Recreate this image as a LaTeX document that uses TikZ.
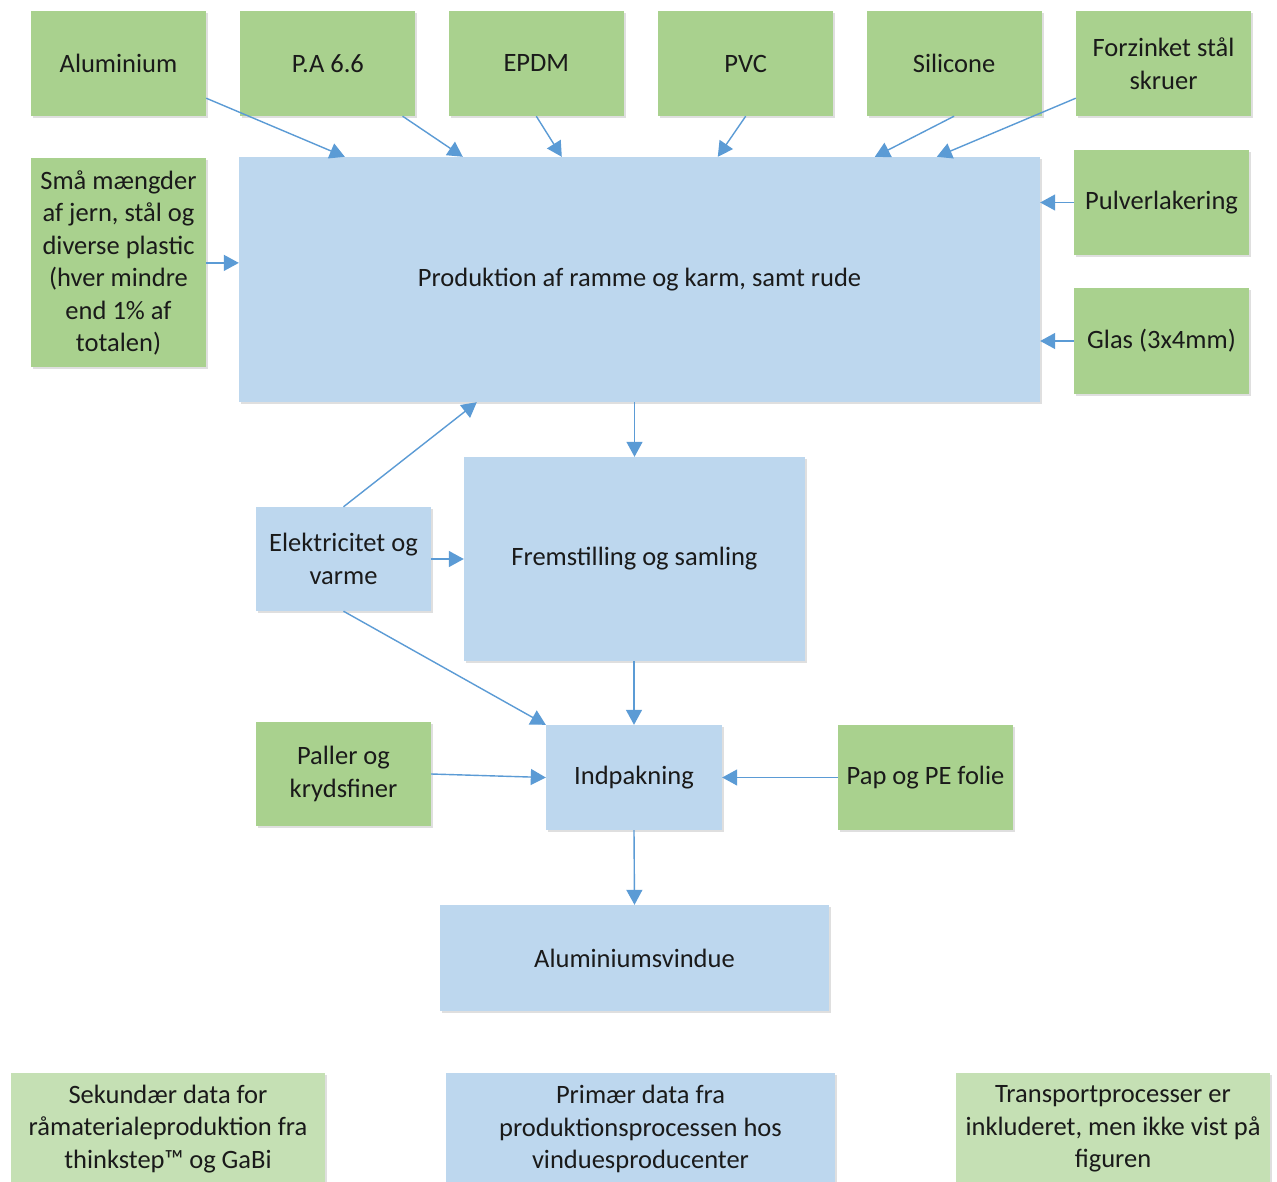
\documentclass[tikz,border=0pt]{standalone}
\usepackage{fontspec}
\setmainfont{Carlito}
\usepackage{xcolor}
\usetikzlibrary{arrows.meta,positioning,shadows}

\definecolor{rawgreen}{HTML}{A9D18E}
\definecolor{procblue}{HTML}{BDD7EE}
\definecolor{notegreen}{HTML}{C5E0B4}
\definecolor{flowblue}{HTML}{5B9BD5}
\definecolor{txtgray}{HTML}{1A1A1A}

\begin{document}
\begin{tikzpicture}[x=1pt,y=-1pt,
        box/.style={rectangle, inner sep=2pt, align=center, text=txtgray,
                    font=\fontsize{26.5}{32.5}\selectfont,
                    drop shadow={shadow xshift=2pt, shadow yshift=-2pt, opacity=0.25}},
        raw/.style={box, fill=rawgreen, minimum width=175pt, minimum height=105pt},
        proc/.style={box, fill=procblue}]
        \tikzstyle{flow} = [draw=flowblue, line width=1.4pt, -{Triangle[length=15pt,width=16pt]}]
        \tikzstyle{note} = [box, minimum height=112pt, drop shadow={opacity=0}]
        \useasboundingbox (0,0) rectangle (1277,1182);
        \fill[white] (0,0) rectangle (1277,1182);
        \clip (0,0) rectangle (1277,1182);

        % raw materials on top
        \node[raw] (alu) at (118.5,63.5) {Aluminium};
        \node[raw, right = 34pt of alu] (pa) {P.A 6.6};
        \node[raw, right = 33pt of pa] (epdm) {EPDM};
        \node[raw, right = 34pt of epdm] (pvc) {PVC};
        \node[raw, right = 33pt of pvc] (sil) {Silicone};
        \node[raw, right = 34pt of sil] (forz) {Forzinket stål\\skruer};
        \node[raw, minimum height=209pt, below = 42pt of alu] (smaa) {Små mængder\\af jern, stål og\\diverse plastic\\(hver mindre\\end 1\% af\\totalen)};
        \node[raw] (pulver) at (1161.5,202.5) {Pulverlakering};
        \node[raw] (glas) at (1161.5,341) {Glas (3x4mm)};

        % processes
        \node[proc, minimum width=801pt, minimum height=245pt] (main) at (639.5,279.5) {Produktion af ramme og karm, samt rude};
        \node[proc, minimum width=341pt, minimum height=204pt] (frem) at (634.5,559) {Fremstilling og samling};
        \node[proc, minimum width=175pt, minimum height=104pt] (el) at (343.5,559) {Elektricitet og\\varme};
        \node[proc, minimum width=176pt, minimum height=105pt] (indp) at (634,777.5) {Indpakning};
        \node[raw, minimum height=104pt] (paller) at (343.5,774) {Paller og\\krydsfiner};
        \node[raw] (pap) at (925.5,777.5) {Pap og PE folie};
        \node[proc, minimum width=389pt, minimum height=106pt] (vindue) at (634.5,958) {Aluminiumsvindue};

        % legend
        \node[note, fill=notegreen, minimum width=314pt] (sek) at (168,1129) {Sekundær data for\\råmaterialeproduktion fra\\thinkstep™ og GaBi};
        \node[note, fill=procblue, minimum width=389pt] (prim) at (640.5,1129) {Primær data fra\\produktionsprocessen hos\\vinduesproducenter};
        \node[note, fill=notegreen, minimum width=314pt] (trans) at (1113,1129) {Transportprocesser er\\inkluderet, men ikke vist på\\figuren};

        \draw [flow] ([yshift=18pt]alu.south east) -- ([xshift=106pt]main.north west);
        \draw [flow] ([xshift=-13pt]pa.south east) -- ([xshift=224pt]main.north west);
        \draw [flow] (epdm.south) -- ([xshift=323pt]main.north west);
        \draw [flow] (pvc.south) -- ([xshift=479pt]main.north west);
        \draw [flow] (sil.south) -- ([xshift=636pt]main.north west);
        \draw [flow] ([yshift=18pt]forz.south west) -- ([xshift=698pt]main.north west);
        \draw [flow] (smaa.east) -- (smaa.east -| main.west);
        \draw [flow] (pulver.west) -- (pulver.west -| main.east);
        \draw [flow] (glas.west) -- (glas.west -| main.east);
        \draw [flow] (main.south -| frem.north) -- (frem.north);
        \draw [flow] (el.north) -- ([xshift=238pt]main.south west);
        \draw [flow] (el.east) -- (frem.west |- el.east);
        \draw [flow] (el.south) -- (indp.north west);
        \draw [flow] (frem.south -| indp.north) -- (indp.north);
        \draw [flow] (paller.east) -- (indp.west);
        \draw [flow] (pap.west) -- (indp.east);
        \draw [flow] (indp.south) -- (vindue.north);
\end{tikzpicture}
\end{document}
